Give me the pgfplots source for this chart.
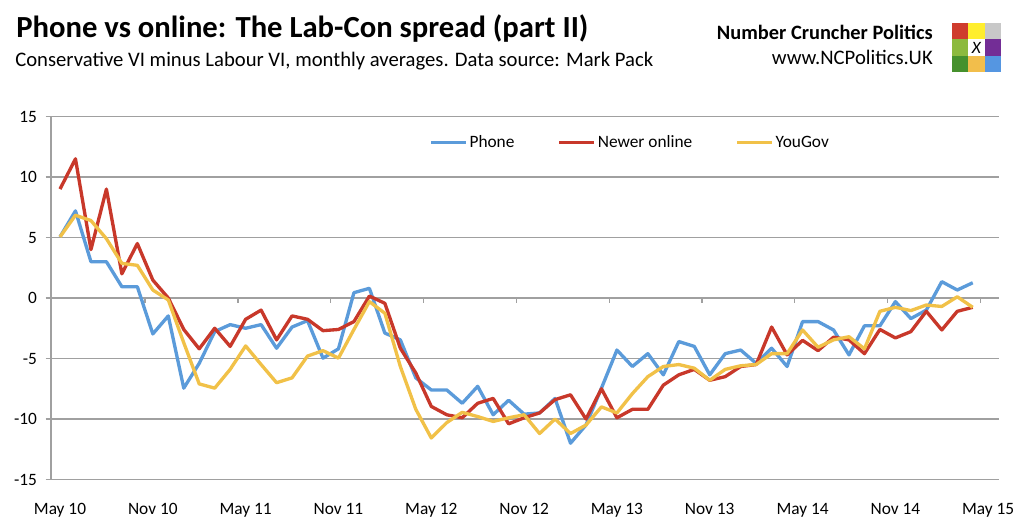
\documentclass[border=0pt]{standalone}
\usepackage{fontspec}
\setmainfont{Carlito}
\usepackage{pgfplots}
\pgfplotsset{compat=1.18}

\definecolor{phone}{RGB}{91,155,218}
\definecolor{online}{RGB}{200,56,42}
\definecolor{yougov}{RGB}{241,193,72}
\definecolor{gridgray}{RGB}{160,160,160}

% monthly averages, month 0 = May 2010
\pgfplotstableread{
m phone online yougov
0 5.05 9.0 5.05
1 7.2 11.5 6.84
2 3.0 4.0 6.4
3 3.0 9.0 4.9
4 0.93 2.0 2.86
5 0.93 4.5 2.7
6 -2.97 1.48 0.66
7 -1.48 0.0 -0.16
8 -7.45 -2.6 -3.7
9 -5.4 -4.2 -7.1
10 -2.78 -2.5 -7.45
11 -2.2 -4.0 -5.9
12 -2.5 -1.76 -3.96
13 -2.2 -1.0 -5.5
14 -4.15 -3.46 -7.0
15 -2.4 -1.48 -6.6
16 -1.87 -1.76 -4.8
17 -4.97 -2.7 -4.35
18 -4.2 -2.6 -4.97
19 0.44 -1.95 -2.6
20 0.8 0.16 -0.3
21 -2.9 -0.44 -1.26
22 -3.46 -4.15 -5.66
23 -6.6 -6.2 -9.2
24 -7.6 -8.96 -11.57
25 -7.6 -9.65 -10.3
26 -8.7 -9.9 -9.45
27 -7.3 -8.7 -9.8
28 -9.65 -8.3 -10.2
29 -8.45 -10.4 -9.9
30 -9.6 -9.9 -9.65
31 -9.5 -9.5 -11.2
32 -8.3 -8.4 -10.0
33 -12.0 -8.0 -11.2
34 -10.5 -10.0 -10.5
35 -7.45 -7.5 -9.0
36 -4.3 -9.9 -9.5
37 -5.66 -9.2 -7.9
38 -4.6 -9.2 -6.5
39 -6.35 -7.2 -5.66
40 -3.6 -6.35 -5.5
41 -4.0 -5.9 -5.8
42 -6.35 -6.8 -6.8
43 -4.6 -6.5 -5.9
44 -4.3 -5.66 -5.6
45 -5.4 -5.5 -5.5
46 -4.15 -2.4 -4.6
47 -5.66 -4.7 -4.6
48 -1.95 -3.5 -2.64
49 -1.95 -4.35 -4.07
50 -2.64 -3.24 -3.46
51 -4.7 -3.46 -3.2
52 -2.3 -4.6 -4.2
53 -2.3 -2.6 -1.1
54 -0.3 -3.3 -0.77
55 -1.7 -2.78 -1.04
56 -1.0 -1.1 -0.58
57 1.35 -2.64 -0.7
58 0.66 -1.1 0.1
59 1.26 -0.77 -0.77
}\spread

\begin{document}
\begin{tikzpicture}[x=0.75pt,y=0.75pt]
\path[use as bounding box] (0,0) rectangle (1024,529);

% header
\node[anchor=base west, inner sep=0pt, font=\fontsize{23pt}{27pt}\selectfont\bfseries] at (16,491) {Phone vs online: The Lab-Con spread (part II)};
\node[anchor=base west, inner sep=0pt, font=\fontsize{15.5pt}{18pt}\selectfont] at (15,462.5) {Conservative VI minus Labour VI, monthly averages. Data source: Mark Pack};
\node[anchor=base east, inner sep=0pt, font=\fontsize{15.3pt}{18pt}\selectfont\bfseries] at (933,489.5) {Number Cruncher Politics};
\node[anchor=base east, inner sep=0pt, font=\fontsize{15.5pt}{18pt}\selectfont] at (933,464) {www.NCPolitics.UK};

% logo
\definecolor{lg1}{RGB}{207,60,45}\definecolor{lg2}{RGB}{255,238,45}\definecolor{lg3}{RGB}{200,200,200}
\definecolor{lg4}{RGB}{140,186,62}\definecolor{lg6}{RGB}{115,45,150}
\definecolor{lg7}{RGB}{70,145,45}\definecolor{lg8}{RGB}{242,190,75}\definecolor{lg9}{RGB}{85,150,225}
\fill[lg1] (952,506) rectangle ++(16.3,-16.3);
\fill[lg2] (968.3,506) rectangle ++(16.3,-16.3);
\fill[lg3] (984.6,506) rectangle ++(16.3,-16.3);
\fill[lg4] (952,489.7) rectangle ++(16.3,-16.3);
\fill[lg6] (984.6,489.7) rectangle ++(16.3,-16.3);
\fill[lg7] (952,473.4) rectangle ++(16.3,-16.3);
\fill[lg8] (968.3,473.4) rectangle ++(16.3,-16.3);
\fill[lg9] (984.6,473.4) rectangle ++(16.3,-16.3);
\node[font=\fontsize{13pt}{13pt}\selectfont\itshape, inner sep=0pt] at (976.45,481.55) {X};

\begin{axis}[
  at={(45pt,173.25pt)}, anchor=origin, scale only axis,
  width=711pt, height=272.25pt,
  xmin=-0.58, xmax=60.7, ymin=-15, ymax=15,
  axis y line*=left, axis x line*=bottom,
  axis line style={-, gridgray, line width=1pt},
  x axis line style={draw=none},
  xtick={0,6,...,60},
  xticklabels={May 10,Nov 10,May 11,Nov 11,May 12,Nov 12,May 13,Nov 13,May 14,Nov 14,May 15},
  major x tick style={draw=none},
  ytick={-15,-10,...,15},
  yticklabels={-15,-10,-5,0,5,10,15},
  ymajorgrids, grid style={gridgray, line width=1pt},
  major y tick style={gridgray, line width=1pt},
  tick align=outside, major tick length=4pt,
  ticklabel style={font=\fontsize{13pt}{15pt}\selectfont, text=black},
  xticklabel style={yshift=-10pt},
  yticklabel style={xshift=-3pt},
  legend style={at={(0.399,0.928)}, anchor=west, draw=none, fill=none, inner sep=0pt,
    font=\fontsize{13pt}{15pt}\selectfont, nodes={inner sep=1.5pt},
    /tikz/every even column/.append style={column sep=31pt}},
  legend columns=3,
  legend image code/.code={\draw[#1] (0pt,0pt) -- (26pt,0pt);},
  every axis plot/.append style={line width=2.5pt, line join=round},
]
\pgfplotsinvokeforeach{5.5,11.5,17.5,23.5,29.5,35.5,41.5,47.5,53.5,59.5}{
  \draw[gridgray, line width=1pt] (axis cs:#1,0) -- ++(0pt,-4pt);
}
\addplot[phone] table[x=m, y=phone] {\spread};
\addplot[online] table[x=m, y=online] {\spread};
\addplot[yougov] table[x=m, y=yougov] {\spread};
\legend{Phone, Newer online, YouGov}
\end{axis}
\end{tikzpicture}
\end{document}
